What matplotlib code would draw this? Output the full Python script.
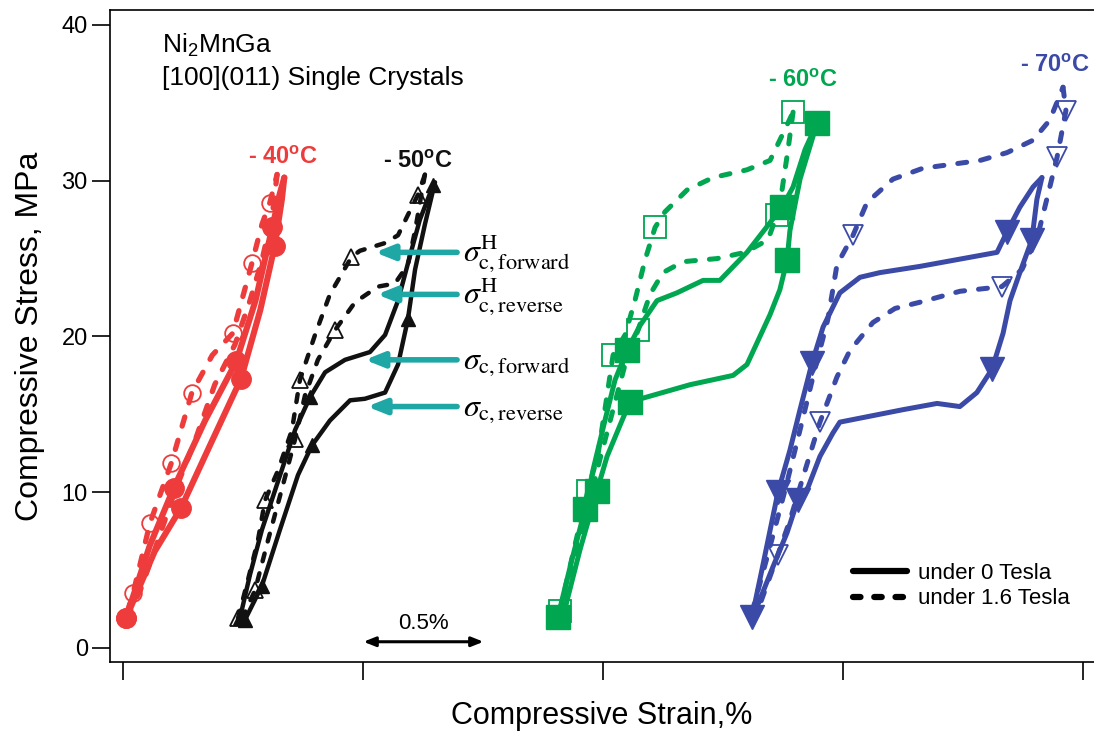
import matplotlib
matplotlib.use("Agg")
import matplotlib.pyplot as plt
from matplotlib.lines import Line2D

plt.rcParams['font.family'] = ['Liberation Sans', 'DejaVu Sans']
plt.rcParams['mathtext.fontset'] = 'custom'
plt.rcParams['mathtext.rm'] = 'Liberation Sans'
plt.rcParams['mathtext.it'] = 'Liberation Sans:italic'
plt.rcParams['mathtext.bf'] = 'Liberation Sans:bold'

# -------- stress-strain loops, strain in %, stress in MPa ----------
# -40 C
t40_solid_up_x = [0.01, 0.11, 0.21, 0.34, 0.47, 0.55, 0.62, 0.65, 0.67]
t40_solid_up_y = [1.9, 6.6, 10.3, 14.6, 18.4, 22.3, 27.0, 29.1, 30.2]
t40_solid_down_x = [0.67, 0.66, 0.63, 0.57, 0.49, 0.36, 0.24, 0.13, 0.01]
t40_solid_down_y = [30.2, 28.8, 25.8, 21.7, 17.3, 13.0, 9.0, 6.2, 1.9]
t40_dash_up_x = [0.015, 0.04, 0.11, 0.2, 0.285, 0.37, 0.455, 0.505, 0.535, 0.577, 0.61, 0.64]
t40_dash_up_y = [2.3, 3.5, 8.0, 11.9, 16.4, 18.8, 20.2, 23.0, 24.7, 27.2, 28.6, 30.4]
t40_dash_down_x = [0.64, 0.62, 0.577, 0.527, 0.465, 0.38, 0.3, 0.215, 0.13, 0.07, 0.02]
t40_dash_down_y = [30.4, 27.8, 24.9, 22.3, 19.5, 16.9, 13.4, 10.1, 6.3, 3.7, 2.1]

# -50 C
t50_solid_up_x = [0.485, 0.527, 0.577, 0.631, 0.715, 0.777, 0.84, 0.923, 1.027, 1.09, 1.144, 1.194, 1.235, 1.29]
t50_solid_up_y = [1.9, 4.7, 7.6, 10.1, 14.0, 16.1, 17.7, 18.5, 19.0, 20.1, 22.3, 25.2, 27.5, 29.7]
t50_solid_down_x = [1.298, 1.256, 1.215, 1.185, 1.144, 1.09, 1.006, 0.944, 0.86, 0.785, 0.727, 0.652, 0.577, 0.506]
t50_solid_down_y = [29.9, 27.2, 24.3, 21.1, 18.2, 16.4, 16.0, 15.9, 14.6, 13.0, 11.1, 7.6, 4.0, 1.8]
t50_dash_up_x = [0.477, 0.519, 0.56, 0.59, 0.644, 0.702, 0.735, 0.798, 0.86, 0.95, 0.985, 1.09, 1.144, 1.185, 1.227, 1.256]
t50_dash_up_y = [1.9, 4.4, 6.9, 9.5, 11.4, 14.0, 17.2, 20.1, 22.7, 25.1, 25.5, 26.0, 26.5, 27.8, 29.1, 30.4]
t50_dash_down_x = [1.256, 1.215, 1.185, 1.131, 1.06, 0.965, 0.881, 0.81, 0.756, 0.715, 0.665, 0.602, 0.548, 0.494]
t50_dash_down_y = [30.4, 26.8, 24.6, 23.4, 23.2, 22.2, 20.4, 18.5, 16.2, 13.4, 10.5, 6.9, 3.7, 1.9]

# -60 C
t60_solid_up_x = [1.81, 1.869, 1.923, 1.956, 2.006, 2.048, 2.098, 2.152, 2.223, 2.306, 2.415, 2.485, 2.598, 2.744, 2.79, 2.84, 2.89]
t60_solid_up_y = [2.0, 5.7, 8.9, 11.4, 14.6, 17.2, 19.1, 20.7, 22.3, 22.8, 23.6, 23.6, 25.4, 28.3, 29.6, 32.0, 33.7]
t60_solid_down_x = [2.89, 2.819, 2.777, 2.765, 2.735, 2.694, 2.652, 2.598, 2.54, 2.36, 2.11, 2.069, 2.015, 1.973, 1.902, 1.831]
t60_solid_down_y = [33.7, 30.1, 26.8, 24.9, 23.0, 21.4, 20.0, 18.2, 17.5, 16.9, 15.8, 14.3, 12.3, 10.1, 6.3, 2.0]
t60_dash_up_x = [1.819, 1.881, 1.935, 1.977, 2.006, 2.04, 2.09, 2.131, 2.173, 2.215, 2.256, 2.348, 2.456, 2.598, 2.694, 2.744, 2.79]
t60_dash_up_y = [2.4, 6.6, 10.1, 12.4, 15.3, 18.8, 20.1, 22.3, 24.9, 27.0, 28.0, 29.4, 30.2, 30.7, 31.3, 32.9, 34.4]
t60_dash_down_x = [2.79, 2.769, 2.744, 2.723, 2.685, 2.59, 2.473, 2.331, 2.248, 2.194, 2.144, 2.09, 2.04, 1.985, 1.923, 1.852, 1.831]
t60_dash_down_y = [34.4, 32.0, 29.4, 27.8, 26.2, 25.4, 25.0, 24.8, 24.1, 22.7, 20.4, 18.2, 15.3, 12.1, 8.2, 4.4, 3.1]

# -70 C
t70_solid_up_x = [2.619, 2.66, 2.727, 2.777, 2.819, 2.869, 2.915, 2.985, 3.069, 3.152, 3.319, 3.64, 3.681, 3.735, 3.79, 3.827]
t70_solid_up_y = [2.0, 5.0, 10.0, 12.7, 15.3, 18.3, 20.6, 22.8, 23.8, 24.1, 24.5, 25.4, 26.7, 28.3, 29.6, 30.2]
t70_solid_down_x = [3.827, 3.806, 3.785, 3.735, 3.694, 3.665, 3.619, 3.556, 3.485, 3.39, 3.248, 2.985, 2.956, 2.902, 2.852, 2.81, 2.765, 2.706, 2.623]
t70_solid_down_y = [30.2, 28.8, 26.2, 24.1, 22.3, 20.2, 17.9, 16.4, 15.5, 15.7, 15.3, 14.5, 13.8, 12.3, 10.3, 9.5, 7.4, 5.2, 2.0]
t70_dash_up_x = [2.619, 2.685, 2.756, 2.819, 2.881, 2.935, 2.973, 3.04, 3.098, 3.206, 3.331, 3.569, 3.681, 3.79, 3.86, 3.915]
t70_dash_up_y = [2.3, 6.0, 10.1, 14.0, 17.9, 21.1, 24.6, 26.5, 28.6, 30.1, 30.8, 31.3, 31.8, 32.6, 33.9, 36.0]
t70_dash_down_x = [3.915, 3.927, 3.89, 3.852, 3.81, 3.744, 3.66, 3.485, 3.319, 3.215, 3.123, 3.027, 2.973, 2.902, 2.84, 2.777, 2.727, 2.652]
t70_dash_down_y = [36.0, 34.5, 31.5, 29.1, 26.5, 24.3, 23.2, 22.9, 22.2, 21.8, 20.9, 19.1, 17.4, 14.5, 11.4, 8.2, 6.0, 2.8]

temp_labels = ['- 40$^{\\mathbf{o}}$C', '- 50$^{\\mathbf{o}}$C', '- 60$^{\\mathbf{o}}$C', '- 70$^{\\mathbf{o}}$C']
temp_label_x = [0.52, 1.08, 2.685, 3.735]
temp_label_y = [31.1, 30.8, 36.0, 37.0]

# critical stress levels marked on the -50 C loops
sigma_labels = [r'$\sigma^{\mathrm{H}}_{\mathrm{c,forward}}$', r'$\sigma^{\mathrm{H}}_{\mathrm{c,reverse}}$',
                r'$\sigma_{\mathrm{c,forward}}$', r'$\sigma_{\mathrm{c,reverse}}$']
sigma_levels = [25.4, 22.7, 18.5, 15.5]
sigma_arrow_tip = [1.048, 1.056, 1.006, 1.015]

RED = '#ee3b3b'
BLACK = '#111111'
GREEN = '#00a650'
BLUE = '#3a4aa6'
TEAL = '#1fa7a6'

fig = plt.figure(figsize=(10.94, 7.34), dpi=100)
ax = fig.add_axes([110 / 1094, 72 / 734, 984 / 1094, 652 / 734])

dash = (0, (1.8, 2.8))


def loop(xs, ys, color, lw, dashed, marker, ms, filled, every):
    ax.plot(xs, ys, color=color, lw=lw, ls=dash if dashed else '-',
            dash_capstyle='round', solid_capstyle='round', solid_joinstyle='round',
            marker=marker, markevery=every, ms=ms,
            mfc=color if filled else 'none', mec=color, mew=1.3 if not filled else 1.0)


# -40 C circles
loop(t40_solid_up_x, t40_solid_up_y, RED, 4.4, False, 'o', 14, True, [0, 2, 4, 6])
loop(t40_solid_down_x, t40_solid_down_y, RED, 4.4, False, 'o', 14, True, [2, 4, 6, 8])
loop(t40_dash_up_x, t40_dash_up_y, RED, 3.8, True, 'o', 12, False, [1, 2, 3, 4, 6, 8, 10])
loop(t40_dash_down_x, t40_dash_down_y, RED, 3.8, True, 'o', 12, False, [])

# -50 C triangles
loop(t50_solid_up_x, t50_solid_up_y, BLACK, 3.2, False, '^', 10, True, [0, 5, 13])
loop(t50_solid_down_x, t50_solid_down_y, BLACK, 3.2, False, '^', 10, True, [3, 9, 12, 13])
loop(t50_dash_up_x, t50_dash_up_y, BLACK, 3.2, True, '^', 11, False, [0, 3, 6, 9, 14])
loop(t50_dash_down_x, t50_dash_down_y, BLACK, 3.2, True, '^', 11, False, [6, 9, 12])

# -60 C squares
loop(t60_solid_up_x, t60_solid_up_y, GREEN, 3.6, False, 's', 17, True, [0, 2, 6, 13, 16])
loop(t60_solid_down_x, t60_solid_down_y, GREEN, 3.6, False, 's', 17, True, [3, 10, 13])
loop(t60_dash_up_x, t60_dash_up_y, GREEN, 3.6, True, 's', 16, False, [0, 2, 5, 9, 16])
loop(t60_dash_down_x, t60_dash_down_y, GREEN, 3.6, True, 's', 16, False, [3, 10])

# -70 C down triangles
loop(t70_solid_up_x, t70_solid_up_y, BLUE, 3.6, False, 'v', 17, True, [0, 2, 5, 12])
loop(t70_solid_down_x, t70_solid_down_y, BLUE, 3.6, False, 'v', 17, True, [2, 6, 15])
loop(t70_dash_up_x, t70_dash_up_y, BLUE, 3.6, True, 'v', 15, False, [7])
loop(t70_dash_down_x, t70_dash_down_y, BLUE, 3.6, True, 'v', 15, False, [1, 2, 6, 13, 16])

for lab, tx, ty, c in zip(temp_labels, temp_label_x, temp_label_y, [RED, BLACK, GREEN, BLUE]):
    ax.text(tx, ty, lab, color=c, fontsize=17, fontweight='bold', ha='left', va='baseline')

for lab, lev, tip in zip(sigma_labels, sigma_levels, sigma_arrow_tip):
    ax.annotate('', xy=(tip, lev), xytext=(1.39, lev),
                arrowprops=dict(arrowstyle='-|>,head_length=0.55,head_width=0.22',
                                lw=4, color=TEAL, mutation_scale=20, shrinkA=0, shrinkB=0))
    ax.text(1.414, lev - 0.6, lab, fontsize=23, math_fontfamily='stix', ha='left', va='baseline')

# 0.5 % scale bar
ax.annotate('', xy=(1.0, 0.4), xytext=(1.5, 0.4),
            arrowprops=dict(arrowstyle='<|-|>,head_length=0.5,head_width=0.2',
                            lw=2.2, color='black', mutation_scale=14, shrinkA=0, shrinkB=0))
ax.text(1.25, 1.2, '0.5%', fontsize=16, ha='center', va='baseline')

ax.text(0.16, 38.2, 'Ni$_2$MnGa', fontsize=19, ha='left', va='baseline')
ax.text(0.16, 36.15, '[100](011) Single Crystals', fontsize=19, ha='left', va='baseline')

handles = [Line2D([], [], color='black', lw=4.5, solid_capstyle='round'),
           Line2D([], [], color='black', lw=4.5, ls=(0, (1.2, 2.2)), dash_capstyle='round')]
ax.legend(handles, ['under 0 Tesla', 'under 1.6 Tesla'], loc='lower left',
          bbox_to_anchor=(0.735, 0.05), frameon=False, fontsize=16,
          handlelength=2.4, handletextpad=0.5, labelspacing=0.2)

ax.set_xlim(-0.05625, 4.044)
ax.set_ylim(-0.9, 40.96)
ax.set_xticks([0, 1, 2, 3, 4])
ax.set_xticklabels([])
ax.set_yticks([0, 10, 20, 30, 40])
ax.tick_params(direction='out', length=13, width=1.2, labelsize=17, pad=3)
for s in ['left', 'bottom', 'top']:
    ax.spines[s].set_linewidth(1.2)
ax.spines['right'].set_visible(False)

ax.set_xlabel('Compressive Strain,%', fontsize=22, labelpad=12)
ax.set_ylabel('Compressive Stress, MPa', fontsize=23, labelpad=12)

fig.savefig('out.png', dpi=100)
